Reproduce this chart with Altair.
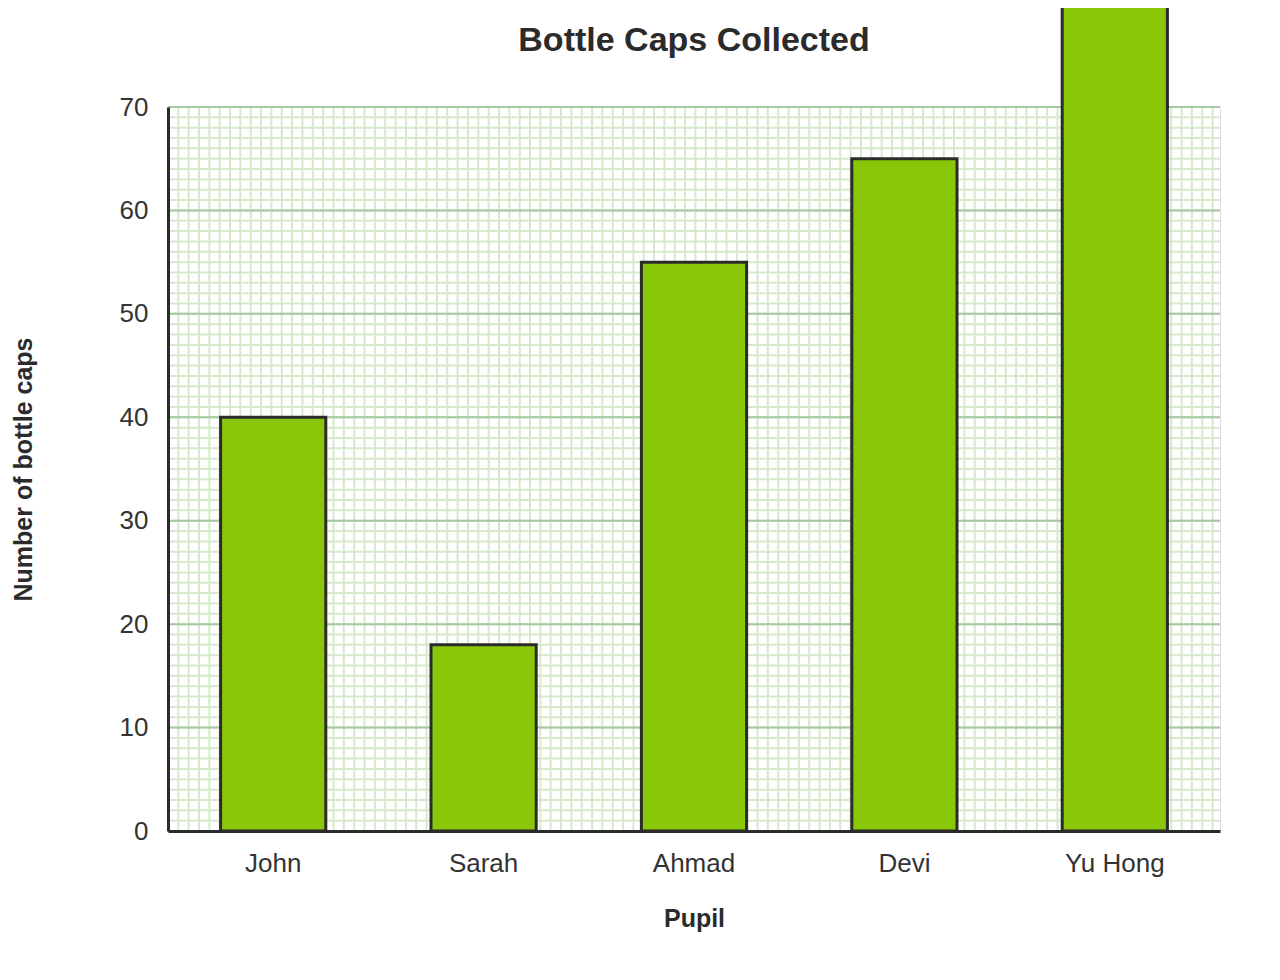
import altair as alt
import pandas as pd

# ---- data ----
pupils = ["John", "Sarah", "Ahmad", "Devi", "Yu Hong"]
caps = [40, 18, 55, 65, 80]
y_major = [0, 10, 20, 30, 40, 50, 60, 70]
y_minor = list(range(0, 71))
x_minor = list(range(0, 102))

W, H = 1052, 724
x_cells = W / (H / 70.0)

FONT = "Liberation Sans"
DARK = "#2b2b2b"
TEXT = "#333333"
MINOR = "#d6e9cc"
MAJOR = "#a6c9a1"
BAR = "#89c708"

bars_df = pd.DataFrame({"Pupil": pupils, "Caps": caps})
vgrid_df = pd.DataFrame({"gx": x_minor})
hminor_df = pd.DataFrame({"gy": y_minor})
hmajor_df = pd.DataFrame({"gy": y_major})

yscale = alt.Scale(domain=[0, 70], nice=False, zero=True)
yaxis = alt.Axis(
    values=y_major, ticks=False, grid=False,
    labelFontSize=26, labelColor=TEXT, labelFont=FONT, labelPadding=20,
    domainColor=DARK, domainWidth=3,
    titleFontSize=25, titleFontWeight="bold", titleColor=DARK, titleFont=FONT,
    titlePadding=83, zindex=1,
)
YTITLE = "Number of bottle caps"

xaxis = alt.Axis(
    labelAngle=0, ticks=False, grid=False,
    labelFontSize=26, labelColor=TEXT, labelFont=FONT, labelPadding=19,
    domainColor=DARK, domainWidth=3,
    titleFontSize=25, titleFontWeight="bold", titleColor=DARK, titleFont=FONT,
    titlePadding=30, zindex=1,
)

vgrid = alt.Chart(vgrid_df).mark_rule(color=MINOR, strokeWidth=2).encode(
    x=alt.X("gx:Q", scale=alt.Scale(domain=[0, x_cells], nice=False, zero=False), axis=None)
)

hminor = alt.Chart(hminor_df).mark_rule(color=MINOR, strokeWidth=2).encode(
    y=alt.Y("gy:Q", scale=yscale, axis=yaxis, title=YTITLE)
)

hmajor = alt.Chart(hmajor_df).mark_rule(color=MAJOR, strokeWidth=2).encode(
    y=alt.Y("gy:Q", scale=yscale, axis=yaxis, title=YTITLE)
)

bars = alt.Chart(bars_df).mark_bar(fill=BAR, stroke=DARK, strokeWidth=3).encode(
    x=alt.X("Pupil:N", sort=pupils,
            scale=alt.Scale(paddingInner=0.5, paddingOuter=0.25),
            axis=xaxis, title="Pupil"),
    y=alt.Y("Caps:Q", scale=yscale, axis=yaxis, title=YTITLE),
)

chart = (
    alt.layer(vgrid, hminor, hmajor, bars)
    .resolve_scale(x="independent")
    .properties(
        width=W, height=H,
        title=alt.TitleParams(
            "Bottle Caps Collected", fontSize=34, fontWeight="bold", color=DARK,
            font=FONT, anchor="middle", frame="group", offset=-83, baseline="alphabetic",
        ),
        autosize=alt.AutoSizeParams(type="none"),
        padding={"left": 160, "top": 99, "right": 40, "bottom": 117},
    )
    .configure_view(stroke=None)
    .configure(font=FONT)
)

chart.save("out.html", embed_options={"renderer": "svg", "actions": False})
